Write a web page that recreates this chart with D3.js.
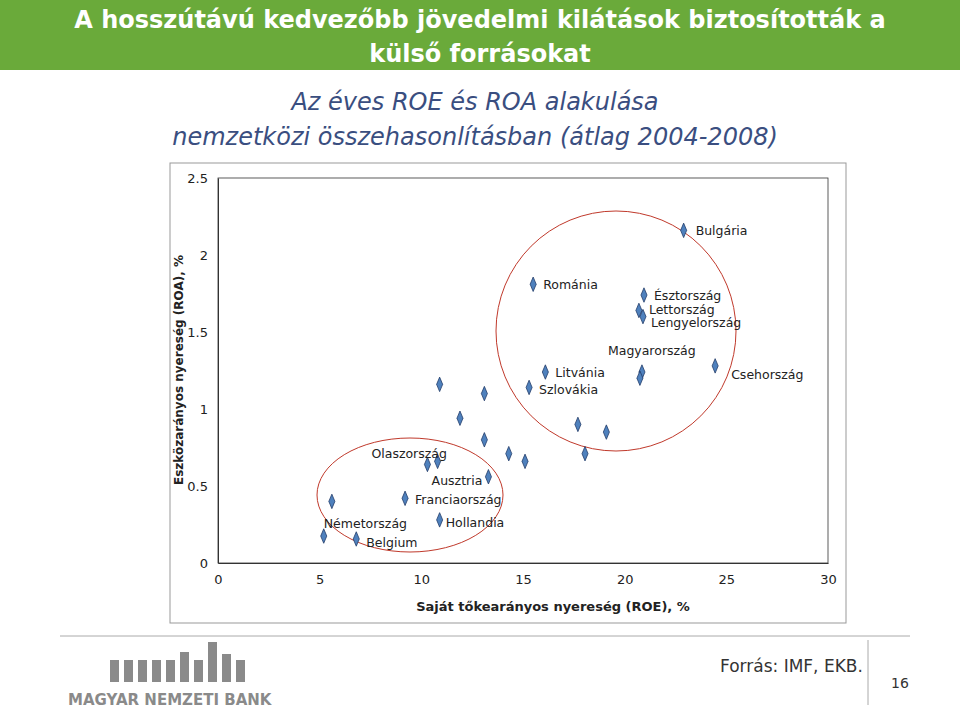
<!DOCTYPE html>
<html><head><meta charset="utf-8">
<script src="https://cdn.jsdelivr.net/npm/d3@7"></script>
<style>body{margin:0;background:#fff;font-family:"DejaVu Sans",sans-serif}</style>
</head><body><svg id="c" width="960" height="711"></svg>
<script>
const roe=[5.2,6.8,5.6,9.2,10.3,10.8,10.9,11.9,13.1,13.1,13.3,10.9,14.3,15.1,15.3,16.1,15.5,17.7,18.05,19.1,20.95,20.7,20.9,20.85,20.75,22.9,24.45];
const roa=[0.175,0.156,0.40,0.42,0.64,0.66,1.16,0.94,1.10,0.80,0.56,0.28,0.71,0.66,1.14,1.24,1.81,0.90,0.71,0.85,1.74,1.64,1.60,1.24,1.20,2.16,1.28];
const labelNames=["Németország","Belgium","Olaszország","Ausztria","Franciaország","Hollandia","Románia","Litvánia","Szlovákia","Észtország","Lettország","Lengyelország","Magyarország","Bulgária","Csehország"];
const labelPoint=[0,1,4,5,3,11,16,15,14,20,21,22,23,25,26];
const xTicks=[0,5,10,15,20,25,30], yTicks=[0,0.5,1,1.5,2,2.5];
const off=[[0,-8],[10,8],[-56,-6],[-6,24],[10,6],[6,7],[10,5],[10,5],[10,7],[10,5],[10,4],[8,10],[-34,-17],[12,5],[16,13]];

const svg=d3.select("#c");
svg.append("rect").attr("x",0).attr("y",0).attr("width",960).attr("height",70).attr("fill","#6aaa3a");
svg.append("text").attr("x",480).attr("y",28).attr("text-anchor","middle").attr("font-size",24).attr("fill","#fff").attr("font-weight","bold").text("A hosszútávú kedvezőbb jövedelmi kilátások biztosították a");
svg.append("text").attr("x",480).attr("y",62).attr("text-anchor","middle").attr("font-size",24).attr("fill","#fff").attr("font-weight","bold").text("külső forrásokat");
svg.append("text").attr("x",475).attr("y",110).attr("text-anchor","middle").attr("font-size",24).attr("fill","#3a4e80").attr("font-style","italic").text("Az éves ROE és ROA alakulása");
svg.append("text").attr("x",475).attr("y",145).attr("text-anchor","middle").attr("font-size",24).attr("fill","#3a4e80").attr("font-style","italic").text("nemzetközi összehasonlításban (átlag 2004-2008)");

svg.append("rect").attr("x",170).attr("y",163).attr("width",676).attr("height",460).attr("fill","none").attr("stroke","#999");

const x=d3.scaleLinear().domain([0,30]).range([218,828]);
const y=d3.scaleLinear().domain([0,2.5]).range([563,178]);
svg.append("rect").attr("x",218).attr("y",178).attr("width",610).attr("height",385).attr("fill","none").attr("stroke","#333").attr("stroke-width",0.8);
const gx=svg.append("g").attr("transform","translate(0,563)").call(d3.axisBottom(x).tickValues(xTicks).tickSize(0).tickPadding(12).tickFormat(d3.format("d")));
const gy=svg.append("g").attr("transform","translate(218,0)").call(d3.axisLeft(y).tickValues(yTicks).tickSize(0).tickPadding(10).tickFormat(d=>String(d)));
[gx,gy].forEach(g=>{g.select(".domain").attr("stroke","#333");g.selectAll("text").attr("font-size",13).attr("fill","#222").attr("font-family","DejaVu Sans");});

svg.append("text").attr("x",553).attr("y",611).attr("text-anchor","middle").attr("font-size",13).attr("font-weight","bold").attr("fill","#222").text("Saját tőkearányos nyereség (ROE), %");
svg.append("text").attr("transform","translate(183,370) rotate(-90)").attr("text-anchor","middle").attr("font-size",12).attr("font-weight","bold").attr("fill","#222").text("Eszközarányos nyereség (ROA), %");

svg.append("ellipse").attr("cx",410).attr("cy",495).attr("rx",93).attr("ry",57).attr("fill","none").attr("stroke","#c0392b").attr("stroke-width",1);
svg.append("ellipse").attr("cx",616).attr("cy",331).attr("rx",120).attr("ry",120).attr("fill","none").attr("stroke","#c0392b").attr("stroke-width",1);

svg.selectAll("path.pt").data(roe.map((v,i)=>[v,roa[i]])).enter().append("path")
 .attr("d",d3.symbol(d3.symbolDiamond,50)).attr("transform",d=>`translate(${x(d[0])},${y(d[1])}) scale(0.8,1.1)`)
 .attr("fill","#4f81bd").attr("stroke","#1f3864").attr("stroke-width",0.8);

svg.selectAll("text.lab").data(labelNames).enter().append("text")
 .attr("x",(d,i)=>x(roe[labelPoint[i]])+off[i][0]).attr("y",(d,i)=>y(roa[labelPoint[i]])+off[i][1])
 .attr("font-size",12.5).attr("fill","#222").text(d=>d);

svg.append("line").attr("x1",60).attr("x2",910).attr("y1",636).attr("y2",636).attr("stroke","#aaa");
const bars=[[110,22],[124,22],[138,22],[152,22],[166,22],[180,30],[194,22],[208,40],[222,28],[236,22]];
bars.forEach(b=>svg.append("rect").attr("x",b[0]).attr("y",682-b[1]).attr("width",9).attr("height",b[1]).attr("fill","#8a8a8a"));
svg.append("text").attr("x",68).attr("y",705).attr("font-size",15).attr("font-weight","bold").attr("fill","#8a8a8a").text("MAGYAR NEMZETI BANK");
svg.append("text").attr("x",720).attr("y",672).attr("font-size",17).attr("fill","#333").text("Forrás: IMF, EKB.");
svg.append("line").attr("x1",868).attr("x2",868).attr("y1",640).attr("y2",705).attr("stroke","#aaa");
svg.append("text").attr("x",900).attr("y",688).attr("text-anchor","middle").attr("font-size",14).attr("fill","#333").text("16");
</script></body></html>
